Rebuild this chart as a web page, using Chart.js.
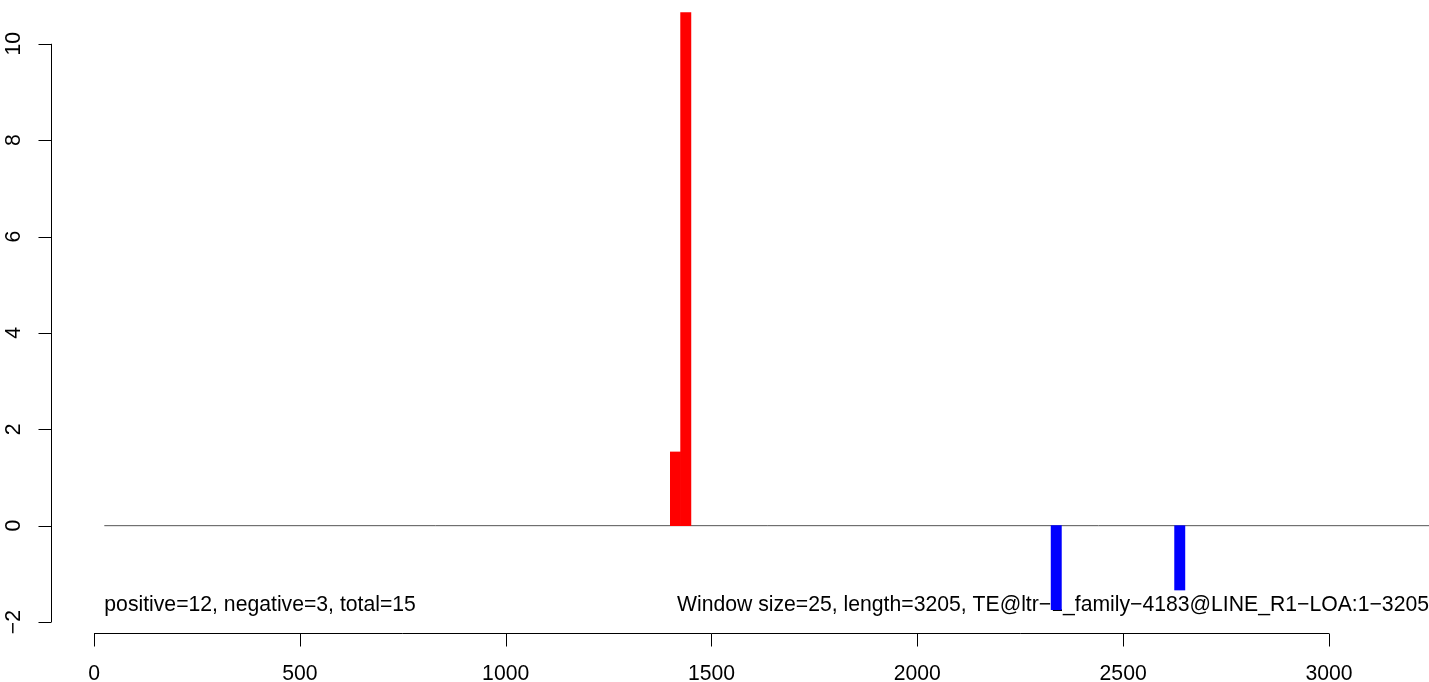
<!DOCTYPE html>
<html>
<head>
<meta charset="utf-8">
<script src="https://cdn.jsdelivr.net/npm/chart.js@4/dist/chart.umd.min.js"></script>
<style>
  html, body { margin: 0; padding: 0; background: #fff; }
  #wrap { width: 1429px; height: 682px; position: relative; }
</style>
</head>
<body>
<div id="wrap"><canvas id="te-chart"></canvas></div>
<script>
// window centres (bp) and normalised counts
const windowCenters = [1412.5, 1437.5, 2337.5, 2637.5];
const windowValues = [1.53, 10.65, -1.745, -1.335];
const baselineX = [25, 3260];
const xTicks = [0, 500, 1000, 1500, 2000, 2500, 3000];
const yTicks = [-2, 0, 2, 4, 6, 8, 10];
const leftNote = "positive=12, negative=3, total=15";
const rightNote = "Window size=25, length=3205, TE@ltr\u22121_family\u22124183@LINE_R1\u2212LOA:1\u22123205";

const FONT = '21.2px "Liberation Sans", Arial, sans-serif';
const fmt = (v) => String(v).replace("-", "\u2212");

const rAxes = {
  id: "rAxes",
  beforeDatasetsDraw(chart) {
    const { ctx } = chart;
    const x = chart.scales.x;
    const y = chart.scales.y;
    ctx.save();
    ctx.font = FONT;
    ctx.fillStyle = "#000";
    ctx.textBaseline = "alphabetic";
    ctx.textAlign = "left";
    ctx.fillText(leftNote, x.getPixelForValue(25), y.getPixelForValue(-1.78));
    ctx.textAlign = "right";
    ctx.fillText(rightNote, x.getPixelForValue(3243), y.getPixelForValue(-1.78));
    ctx.restore();
  },
  afterDraw(chart) {
    const { ctx, chartArea } = chart;
    const x = chart.scales.x;
    const y = chart.scales.y;
    ctx.save();
    ctx.strokeStyle = "#000";
    ctx.lineWidth = 1;
    ctx.font = FONT;
    ctx.fillStyle = "#000";

    // y axis
    const ax = Math.round(chartArea.left) + 0.5;
    ctx.beginPath();
    ctx.moveTo(ax, y.getPixelForValue(yTicks[0]));
    ctx.lineTo(ax, y.getPixelForValue(yTicks[yTicks.length - 1]));
    yTicks.forEach((t) => {
      const py = Math.round(y.getPixelForValue(t)) + 0.5;
      ctx.moveTo(ax, py);
      ctx.lineTo(ax - 13, py);
    });
    ctx.stroke();
    yTicks.forEach((t) => {
      ctx.save();
      ctx.translate(20, y.getPixelForValue(t));
      ctx.rotate(-Math.PI / 2);
      ctx.textAlign = "center";
      ctx.textBaseline = "alphabetic";
      ctx.fillText(fmt(t), 0, 0);
      ctx.restore();
    });

    // x axis
    const ay = 633.5;
    ctx.beginPath();
    ctx.moveTo(x.getPixelForValue(xTicks[0]), ay);
    ctx.lineTo(x.getPixelForValue(xTicks[xTicks.length - 1]), ay);
    xTicks.forEach((t) => {
      const px = Math.round(x.getPixelForValue(t)) + 0.5;
      ctx.moveTo(px, ay);
      ctx.lineTo(px, ay + 13);
    });
    ctx.stroke();
    ctx.textAlign = "center";
    ctx.textBaseline = "alphabetic";
    xTicks.forEach((t) => {
      ctx.fillText(fmt(t), x.getPixelForValue(t), 680);
    });
    ctx.restore();
  },
};

new Chart(document.getElementById("te-chart"), {
  type: "bar",
  data: {
    datasets: [
      {
        type: "line",
        data: baselineX.map((v) => ({ x: v, y: 0 })),
        borderColor: "#555",
        borderWidth: 1,
        pointRadius: 0,
        order: 2,
      },
      {
        type: "bar",
        data: windowCenters.map((c, i) => ({ x: c, y: windowValues[i] })),
        backgroundColor: windowValues.map((v) => (v >= 0 ? "#ff0000" : "#0000ff")),
        borderWidth: 0,
        barPercentage: 1,
        categoryPercentage: 1,
        order: 1,
      },
    ],
  },
  options: {
    responsive: true,
    maintainAspectRatio: false,
    animation: false,
    layout: { padding: { left: 51, right: 0, top: 0, bottom: 49 } },
    plugins: { legend: { display: false }, tooltip: { enabled: false } },
    scales: {
      x: { type: "linear", min: -104.5, max: 3243, offset: false, display: false },
      y: { min: -2.227, max: 10.909, display: false },
    },
  },
  plugins: [rAxes],
});
</script>
</body>
</html>
